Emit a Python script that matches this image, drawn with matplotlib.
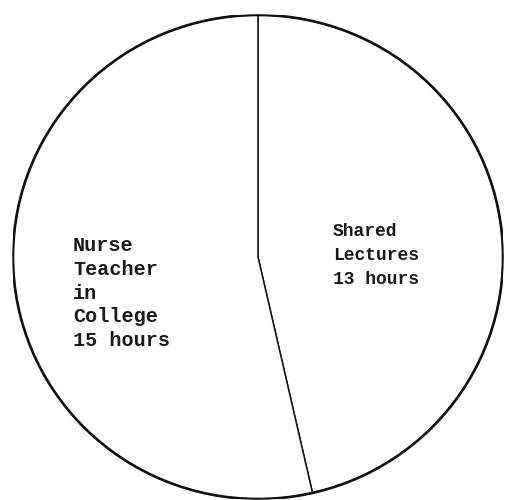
import matplotlib
matplotlib.use("Agg")
import matplotlib.pyplot as plt
from matplotlib.patches import Ellipse

# Data
categories = ["Shared\nLectures", "Nurse\nTeacher\nin\nCollege"]
hours = [13, 15]

W, H = 506, 500
fig = plt.figure(figsize=(W / 100, H / 100), dpi=100)
fig.patch.set_facecolor("white")

# circle geometry in pixels (from top-left)
cx, cy = 258, 257
rx, ry = 245, 242
ax = fig.add_axes([(cx - rx) / W, (H - cy - ry) / H, 2 * rx / W, 2 * ry / H])

wedges, _ = ax.pie(hours, startangle=90, counterclock=False,
                   colors=["white", "white"],
                   wedgeprops=dict(edgecolor="#111111", linewidth=1.1))
ax.set_aspect("auto")
ax.set_xlim(-1, 1)
ax.set_ylim(-1, 1)
ax.axis("off")

ax.add_patch(Ellipse((0, 0), 2, 2, fill=False, edgecolor="#111111",
                     linewidth=1.9, zorder=5))

font = "Liberation Mono"
ax.text(0.306, 0.006, f"{categories[0]}\n{hours[0]} hours", ha="left",
        va="center", fontsize=13, family=font, color="#1a1a1a",
        fontweight="bold", linespacing=1.55)
ax.text(-0.755, -0.149, f"{categories[1]}\n{hours[1]} hours", ha="left",
        va="center", fontsize=14.5, family=font, color="#1a1a1a",
        fontweight="bold", linespacing=1.32)

fig.savefig("out.png", dpi=100, facecolor="white")
